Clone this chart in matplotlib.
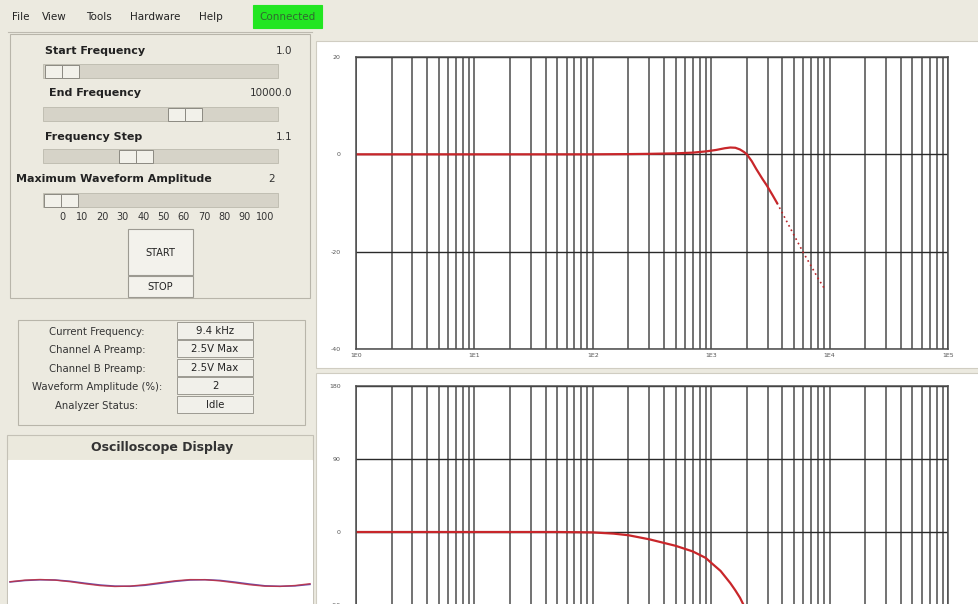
import numpy as np
import matplotlib.pyplot as plt
from matplotlib.patches import Rectangle

plt.rcParams['axes.unicode_minus'] = False

# ---- chart data ----
freq_mag = [1, 10, 100, 200, 300, 500, 700, 900, 1100, 1300, 1450, 1600,
            1750, 1900, 2000, 2200, 2400, 2700, 2950, 3300, 3600]
mag_db = [0, 0, 0, 0.05, 0.1, 0.2, 0.35, 0.6, 0.9, 1.25, 1.4, 1.35,
          1.0, 0.45, 0.0, -1.4, -3.0, -5.0, -6.4, -8.4, -10.0]
# sparse (dotted) part of the sweep
freq_mag_tail = [3600, 4200, 5000, 6000, 7000, 8000, 9000]
mag_db_tail = [-10.0, -13.1, -16.6, -20.2, -23.0, -25.5, -27.5]

freq_ph = [1, 10, 50, 100, 150, 200, 300, 500, 700, 900, 1000, 1200, 1450,
           1600, 1750, 2000, 2300, 2700, 3300, 4500, 6500, 9000]
phase_deg = [0, 0, 0, -0.5, -2, -4, -9, -17, -24, -32, -38, -48, -63,
             -72, -81, -98, -118, -136, -152, -166, -174, -178]

# oscilloscope traces (arbitrary units, 1 unit ~ 1 px)
scope_t = [2, 17, 32, 47, 62, 77, 92, 107, 122, 137, 152, 167, 182, 197,
           212, 227, 242, 257, 272, 287, 302]
scope_a = [1.3, 2.9, 3.5, 2.9, 1.3, -0.8, -2.6, -3.5, -3.1, -1.7, 0.3, 2.2,
           3.4, 3.3, 2.1, 0.2, -1.8, -3.2, -3.4, -2.5, -0.7]
scope_b = [1.0, 2.5, 3.2, 3.0, 1.8, -0.2, -2.0, -3.1, -3.3, -2.3, -0.4, 1.6,
           3.0, 3.3, 2.6, 0.9, -1.1, -2.8, -3.3, -2.9, -1.4]

menu_items = ['File', 'View', 'Tools', 'Hardware', 'Help']
menu_x = [12, 42, 86, 130, 199]

slider_names = ['Start Frequency', 'End Frequency', 'Frequency Step',
                'Maximum Waveform Amplitude']
slider_values = ['1.0', '10000.0', '1.1', '2']
slider_label_x = [45, 49, 45, 16]
slider_label_y = [51, 93, 137, 179]
slider_track_y = [64, 107, 149, 193]
slider_thumb_x = [45, 168, 119, 44]
scale_labels = ['0', '10', '20', '30', '40', '50', '60', '70', '80', '90', '100']

status_labels = ['Current Frequency:', 'Channel A Preamp:', 'Channel B Preamp:',
                 'Waveform Amplitude (%):', 'Analyzer Status:']
status_values = ['9.4 kHz', '2.5V Max', '2.5V Max', '2', 'Idle']

decade_ticks = [1, 10, 100, 1000, 10000, 100000]
decade_labels = ['1E0', '1E1', '1E2', '1E3', '1E4', '1E5']

BG = '#ECEAE0'
W, H = 979, 604

fig = plt.figure(figsize=(9.79, 6.04), dpi=100, facecolor=BG)

# gui layer in pixel coordinates
gui = fig.add_axes([0, 0, 1, 1])
gui.set_xlim(0, W)
gui.set_ylim(H, 0)
gui.axis('off')
gui.set_zorder(0)

def box(x0, y0, x1, y1, fc, ec='#a8a598', lw=0.8):
    gui.add_patch(Rectangle((x0, y0), x1 - x0, y1 - y0, fc=fc, ec=ec, lw=lw))

# menu bar
for name, mx in zip(menu_items, menu_x):
    gui.text(mx, 17, name, fontsize=7.5, va='center', color='#222')
box(253, 5, 322, 28, '#22e622', ec='#22e622')
gui.text(287.5, 16.5, 'Connected', fontsize=7.5, ha='center', va='center', color='#2f6a2f')
gui.plot([8, 312], [32, 32], color='#bdbab0', lw=0.8)

# control panel with sliders
box(10, 34, 310, 298, BG, ec='#b8b5aa')
for i in range(4):
    gui.text(slider_label_x[i], slider_label_y[i], slider_names[i], fontsize=8,
             fontweight='bold', va='center', color='#222')
    if i < 3:
        gui.text(292, slider_label_y[i], slider_values[i], fontsize=7.5,
                 ha='right', va='center', color='#333')
    else:
        gui.text(272, slider_label_y[i], slider_values[i], fontsize=7.5,
                 ha='center', va='center', color='#333')
    ty = slider_track_y[i]
    box(43, ty, 278, ty + 14, '#d6d3c8', ec='#bcb9ad', lw=0.6)
    for k in range(2):
        box(slider_thumb_x[i] + k * 17, ty + 0.5, slider_thumb_x[i] + (k + 1) * 17,
            ty + 14, '#f2f1ea', ec='#8c8a82', lw=0.7)

for k, lab in enumerate(scale_labels):
    gui.text(62 + k * 20.3, 217, lab, fontsize=7, ha='center', va='center', color='#333')

box(128, 229, 193, 275, '#f3f2ec', ec='#9c9a92')
gui.text(160.5, 253, 'START', fontsize=7, ha='center', va='center', color='#222')
box(128, 276, 193, 297, '#f3f2ec', ec='#9c9a92')
gui.text(160.5, 287, 'STOP', fontsize=7, ha='center', va='center', color='#222')

# status panel
box(18, 320, 305, 425, BG, ec='#b8b5aa')
for k, (lab, val) in enumerate(zip(status_labels, status_values)):
    yy = 322 + k * 18.4
    gui.text(97, yy + 10, lab, fontsize=7.3, ha='center', va='center', color='#333')
    box(177, yy, 253, yy + 17, '#f1f0ea', ec='#9c9a92', lw=0.7)
    gui.text(215, yy + 9, val, fontsize=7.3, ha='center', va='center', color='#222')

# oscilloscope panel
box(7, 435, 313, 604, '#ebe9dd', ec='#c4c1b6')
gui.text(162, 448, 'Oscilloscope Display', fontsize=9, fontweight='bold',
         ha='center', va='center', color='#333')
box(8, 460, 312, 604, 'white', ec='white')

# white panels for the two graphs
box(316, 41, W + 2, 368, 'white', ec='#d0cdc2')
box(316, 373, W + 2, H + 2, 'white', ec='#d0cdc2')

scope = fig.add_axes([8 / W, 0, 304 / W, 144 / H])
scope.set_xlim(0, 304)
scope.set_ylim(-21, 123)
scope.axis('off')
scope.set_zorder(1)
scope.plot(scope_t, scope_b, color='#6a4fb0', lw=1.1)
scope.plot(scope_t, scope_a, color='#c03040', lw=1.0, alpha=0.85)

# graph axes: left 356, right 948, top 57, bottom 349 (px)
ax_l, ax_w, ax_h = 356 / W, 592 / W, 292 / H
ax_mag = fig.add_axes([ax_l, (H - 349) / H, ax_w, ax_h])
ax_ph = fig.add_axes([ax_l, (H - 678) / H, ax_w, ax_h])

grid_col = '#4c4c4c'
for ax in (ax_mag, ax_ph):
    ax.set_zorder(2)
    ax.set_facecolor('white')
    ax.set_xscale('log')
    ax.set_xlim(1, 1e5)
    ax.set_xticks(decade_ticks)
    ax.set_xticklabels(decade_labels)
    ax.xaxis.set_minor_locator(plt.matplotlib.ticker.LogLocator(base=10, subs=range(2, 10)))
    ax.xaxis.set_minor_formatter(plt.NullFormatter())
    ax.grid(True, which='both', axis='x', color=grid_col, lw=1.1)
    ax.grid(True, which='major', axis='y', color='#2a2a2a', lw=1.0)
    ax.tick_params(which='both', length=0, labelsize=4.5, labelcolor='#555')
    ax.tick_params(axis='y', pad=11)
    ax.tick_params(axis='x', pad=3)
    for sp in ax.spines.values():
        sp.set_color(grid_col)
        sp.set_linewidth(1.1)

ax_mag.set_ylim(-40, 20)
ax_mag.set_yticks([20, 0, -20, -40])
ax_mag.plot(freq_mag, mag_db, color='#c8262a', lw=1.6)
ax_mag.plot(freq_mag_tail, mag_db_tail, color='#b8262a', lw=1.2, ls=(0, (1, 2)))

ax_ph.set_ylim(-180, 180)
ax_ph.set_yticks([180, 90, 0, -90])
ax_ph.tick_params(axis='x', labelbottom=False)
ax_ph.plot(freq_ph, phase_deg, color='#c8262a', lw=1.6)

fig.savefig('out.png', dpi=100, facecolor=BG)
